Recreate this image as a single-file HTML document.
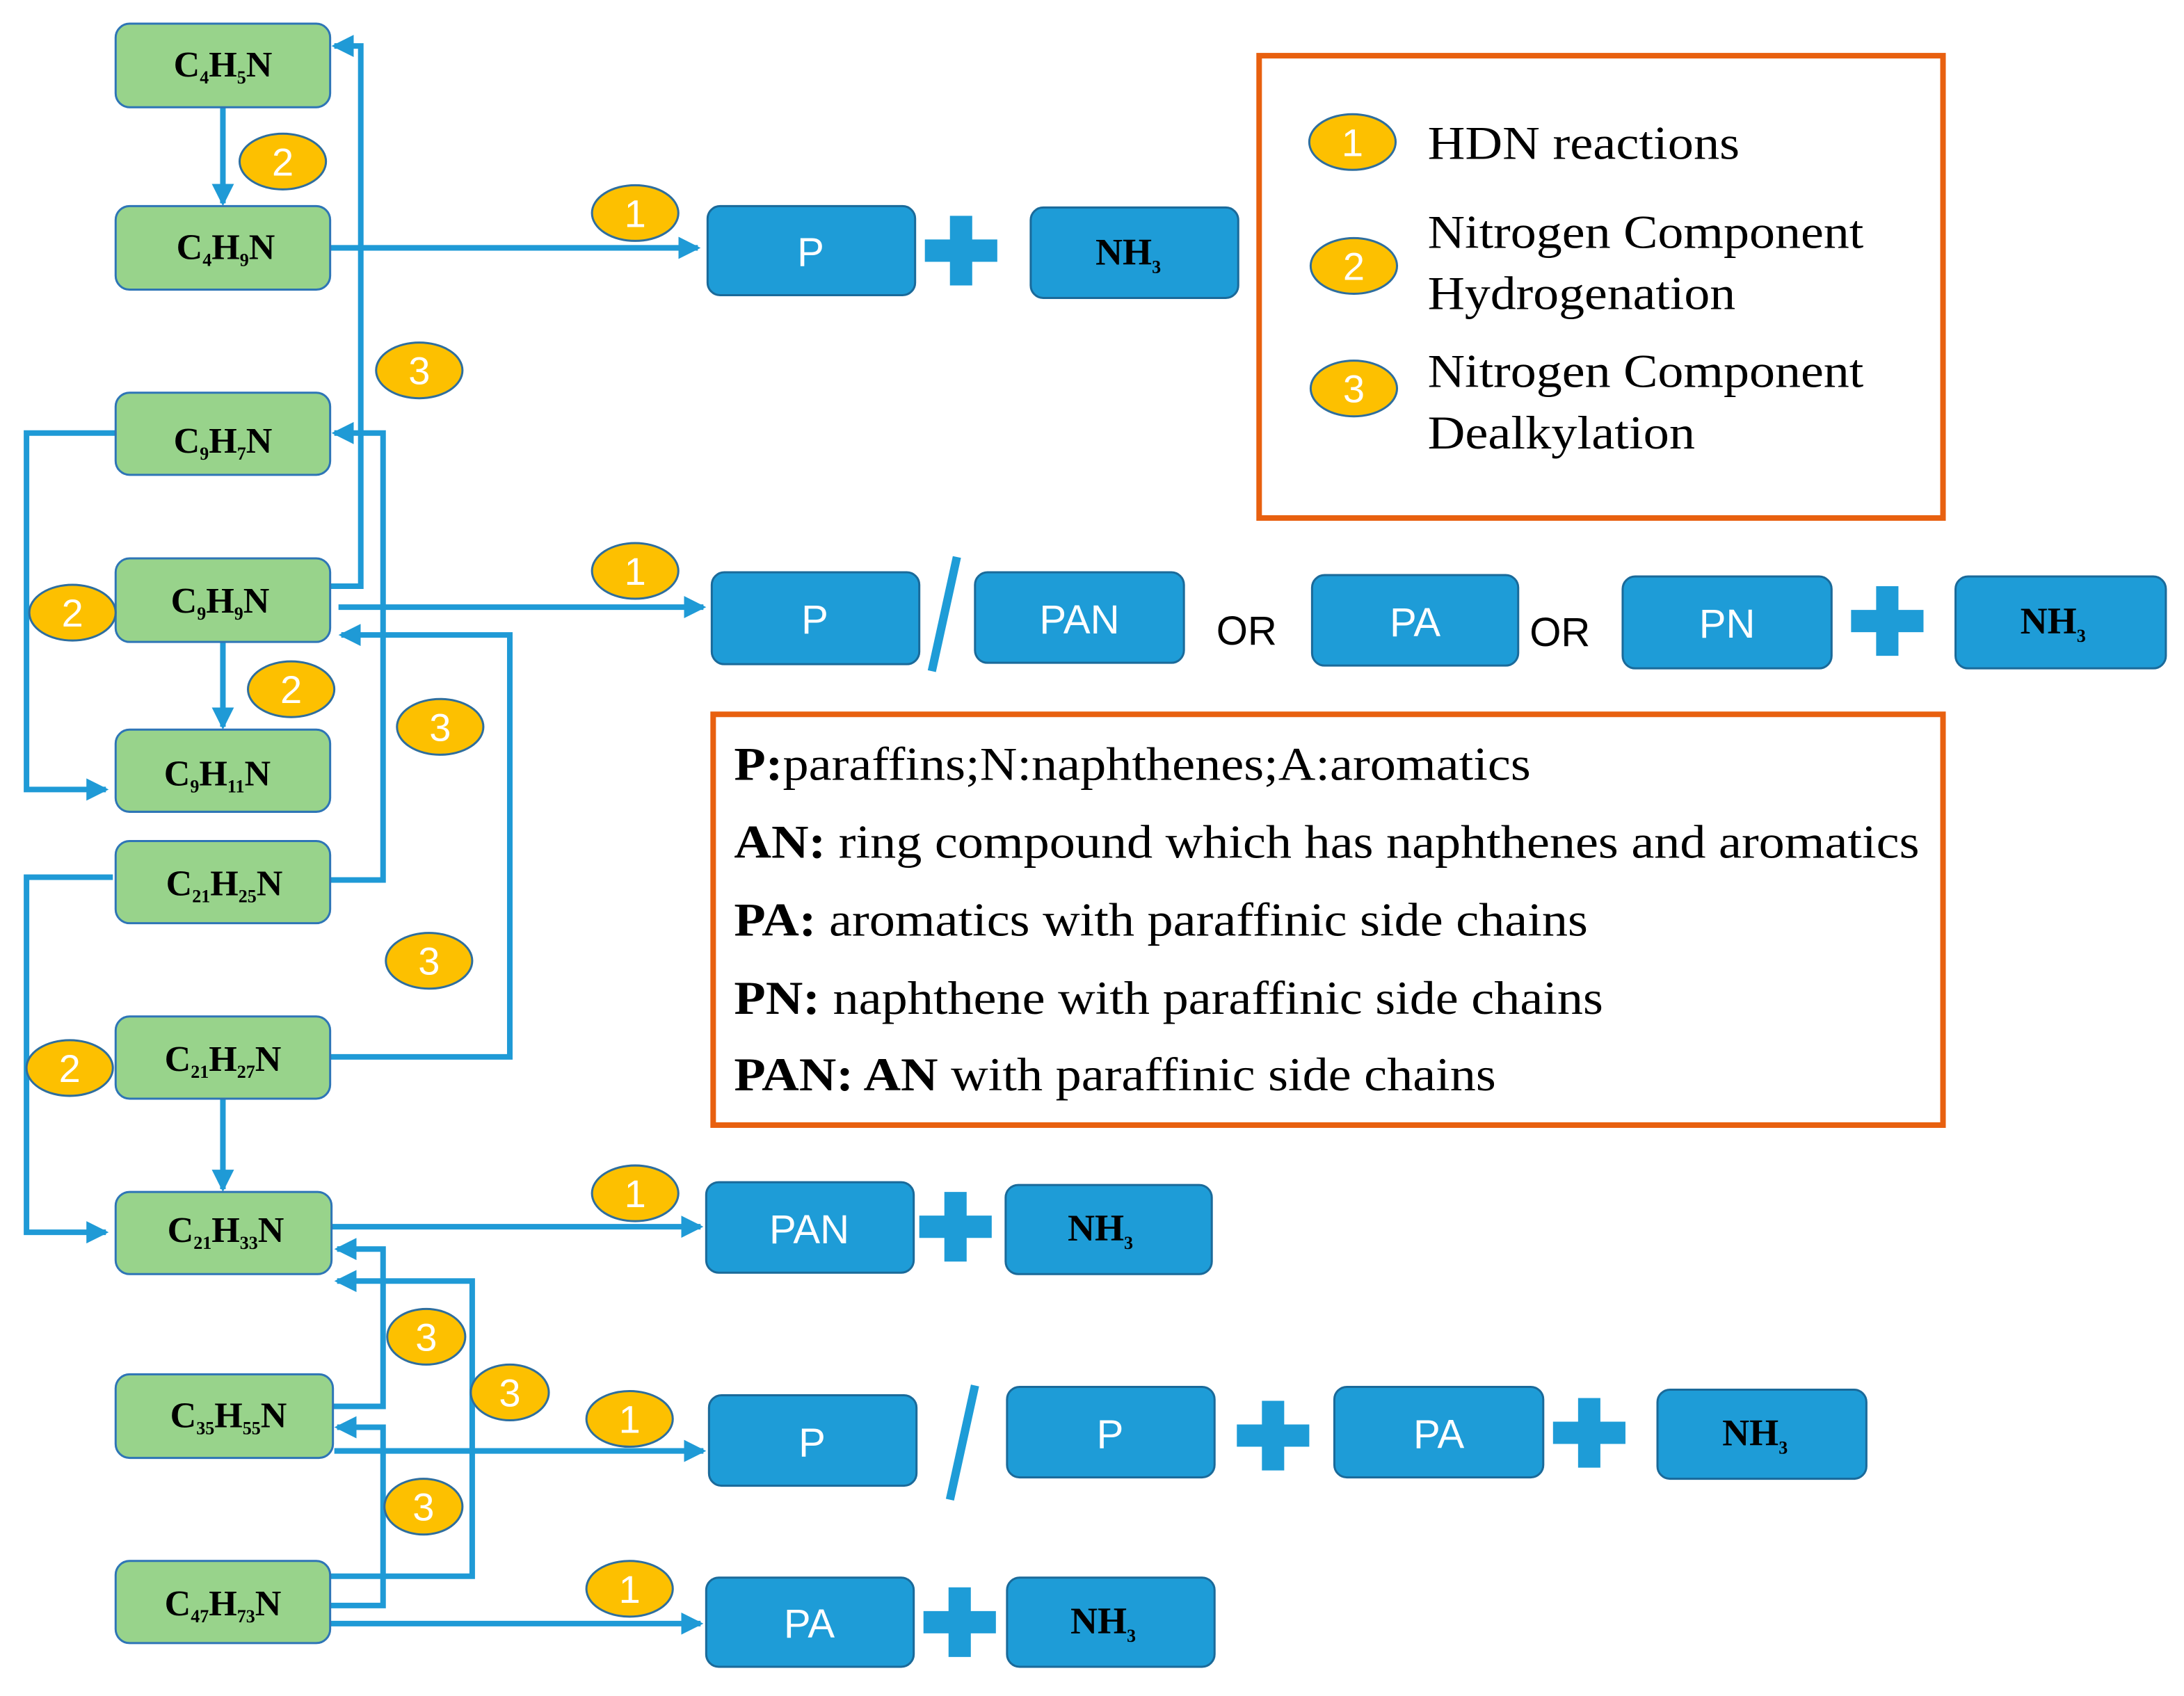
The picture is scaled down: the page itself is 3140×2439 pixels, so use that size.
<!DOCTYPE html>
<html><head><meta charset="utf-8"><style>
html,body{margin:0;padding:0;background:#fff;}
svg{display:block;}
.g{fill:#98d38b;stroke:#2e75b6;stroke-width:1.5;}
.gt{font-family:"Liberation Serif",serif;font-weight:bold;font-size:26px;fill:#000;}
.b{fill:#1e9cd7;stroke:#1a6a9a;stroke-width:1.5;}
.bt{font-family:"Liberation Sans",sans-serif;font-size:29px;fill:#fff;}
.nt{font-family:"Liberation Serif",serif;font-weight:bold;font-size:27px;fill:#000;}
.l{fill:none;stroke:#1f9ad6;stroke-width:4;}
.e{fill:#fdc000;stroke:#2e6e9e;stroke-width:1.5;}
.et{font-family:"Liberation Sans",sans-serif;font-size:28px;fill:#fff;}
.st{font-family:"Liberation Serif",serif;font-size:34px;fill:#000;}
.or{font-family:"Liberation Sans",sans-serif;font-size:29px;fill:#000;}
</style></head><body>
<svg width="3140" height="2439" viewBox="0 0 1568 1218" xmlns="http://www.w3.org/2000/svg">
<defs><marker id="a" markerWidth="4" markerHeight="4" refX="3.5" refY="2" orient="auto" markerUnits="strokeWidth"><path d="M0,0 L4,2 L0,4 z" fill="#1f9ad6"/></marker></defs>

<g class="l">
<path d="M160,77 V146" marker-end="url(#a)"/>
<path d="M237,421 H259 V33 H240" marker-end="url(#a)"/>
<path d="M237,178 H501" marker-end="url(#a)"/>
<path d="M83,311 H19 V567 H76" marker-end="url(#a)"/>
<path d="M237,632 H275 V311 H240" marker-end="url(#a)"/>
<path d="M243,436 H505" marker-end="url(#a)"/>
<path d="M237,759 H366 V456 H245" marker-end="url(#a)"/>
<path d="M160,461 V522" marker-end="url(#a)"/>
<path d="M81,630 H19 V885 H76" marker-end="url(#a)"/>
<path d="M160,789 V854" marker-end="url(#a)"/>
<path d="M237,881 H503" marker-end="url(#a)"/>
<path d="M239,1010 H275 V897 H242" marker-end="url(#a)"/>
<path d="M237,1132 H339 V920 H242" marker-end="url(#a)"/>
<path d="M237,1153 H275 V1025 H242" marker-end="url(#a)"/>
<path d="M240,1042 H505" marker-end="url(#a)"/>
<path d="M237,1166 H503" marker-end="url(#a)"/>
</g>

<g>
<rect class="g" x="83" y="17" width="154" height="60" rx="10"/>
<text class="gt" x="160" y="55" text-anchor="middle">C<tspan font-size="13" dy="5">4</tspan><tspan dy="-5">H</tspan><tspan font-size="13" dy="5">5</tspan><tspan dy="-5">N</tspan></text>
<rect class="g" x="83" y="148" width="154" height="60" rx="10"/>
<text class="gt" x="162" y="186" text-anchor="middle">C<tspan font-size="13" dy="5">4</tspan><tspan dy="-5">H</tspan><tspan font-size="13" dy="5">9</tspan><tspan dy="-5">N</tspan></text>
<rect class="g" x="83" y="282" width="154" height="59" rx="10"/>
<text class="gt" x="160" y="325" text-anchor="middle">C<tspan font-size="13" dy="5">9</tspan><tspan dy="-5">H</tspan><tspan font-size="13" dy="5">7</tspan><tspan dy="-5">N</tspan></text>
<rect class="g" x="83" y="401" width="154" height="60" rx="10"/>
<text class="gt" x="158" y="440" text-anchor="middle">C<tspan font-size="13" dy="5">9</tspan><tspan dy="-5">H</tspan><tspan font-size="13" dy="5">9</tspan><tspan dy="-5">N</tspan></text>
<rect class="g" x="83" y="524" width="154" height="59" rx="10"/>
<text class="gt" x="156" y="564" text-anchor="middle">C<tspan font-size="13" dy="5">9</tspan><tspan dy="-5">H</tspan><tspan font-size="13" dy="5">11</tspan><tspan dy="-5">N</tspan></text>
<rect class="g" x="83" y="604" width="154" height="59" rx="10"/>
<text class="gt" x="161" y="643" text-anchor="middle">C<tspan font-size="13" dy="5">21</tspan><tspan dy="-5">H</tspan><tspan font-size="13" dy="5">25</tspan><tspan dy="-5">N</tspan></text>
<rect class="g" x="83" y="730" width="154" height="59" rx="10"/>
<text class="gt" x="160" y="769" text-anchor="middle">C<tspan font-size="13" dy="5">21</tspan><tspan dy="-5">H</tspan><tspan font-size="13" dy="5">27</tspan><tspan dy="-5">N</tspan></text>
<rect class="g" x="83" y="856" width="155" height="59" rx="10"/>
<text class="gt" x="162" y="892" text-anchor="middle">C<tspan font-size="13" dy="5">21</tspan><tspan dy="-5">H</tspan><tspan font-size="13" dy="5">33</tspan><tspan dy="-5">N</tspan></text>
<rect class="g" x="83" y="987" width="156" height="60" rx="10"/>
<text class="gt" x="164" y="1025" text-anchor="middle">C<tspan font-size="13" dy="5">35</tspan><tspan dy="-5">H</tspan><tspan font-size="13" dy="5">55</tspan><tspan dy="-5">N</tspan></text>
<rect class="g" x="83" y="1121" width="154" height="59" rx="10"/>
<text class="gt" x="160" y="1160" text-anchor="middle">C<tspan font-size="13" dy="5">47</tspan><tspan dy="-5">H</tspan><tspan font-size="13" dy="5">73</tspan><tspan dy="-5">N</tspan></text>
</g>

<g>
<ellipse class="e" cx="203" cy="116" rx="31" ry="20"/><text class="et" x="203" y="126" text-anchor="middle">2</text>
<ellipse class="e" cx="301" cy="266" rx="31" ry="20"/><text class="et" x="301" y="276" text-anchor="middle">3</text>
<ellipse class="e" cx="456" cy="153" rx="31" ry="20"/><text class="et" x="456" y="163" text-anchor="middle">1</text>
<ellipse class="e" cx="456" cy="410" rx="31" ry="20"/><text class="et" x="456" y="420" text-anchor="middle">1</text>
<ellipse class="e" cx="52" cy="440" rx="31" ry="20"/><text class="et" x="52" y="450" text-anchor="middle">2</text>
<ellipse class="e" cx="209" cy="495" rx="31" ry="20"/><text class="et" x="209" y="505" text-anchor="middle">2</text>
<ellipse class="e" cx="316" cy="522" rx="31" ry="20"/><text class="et" x="316" y="532" text-anchor="middle">3</text>
<ellipse class="e" cx="308" cy="690" rx="31" ry="20"/><text class="et" x="308" y="700" text-anchor="middle">3</text>
<ellipse class="e" cx="50" cy="767" rx="31" ry="20"/><text class="et" x="50" y="777" text-anchor="middle">2</text>
<ellipse class="e" cx="456" cy="857" rx="31" ry="20"/><text class="et" x="456" y="867" text-anchor="middle">1</text>
<ellipse class="e" cx="306" cy="960" rx="28" ry="20"/><text class="et" x="306" y="970" text-anchor="middle">3</text>
<ellipse class="e" cx="366" cy="1000" rx="28" ry="20"/><text class="et" x="366" y="1010" text-anchor="middle">3</text>
<ellipse class="e" cx="304" cy="1082" rx="28" ry="20"/><text class="et" x="304" y="1092" text-anchor="middle">3</text>
<ellipse class="e" cx="452" cy="1019" rx="31" ry="20"/><text class="et" x="452" y="1029" text-anchor="middle">1</text>
<ellipse class="e" cx="452" cy="1141" rx="31" ry="20"/><text class="et" x="452" y="1151" text-anchor="middle">1</text>
</g>

<g>
<rect class="b" x="508" y="148" width="149" height="64" rx="9"/><text class="bt" x="582" y="191" text-anchor="middle">P</text>
<path fill="#1e9cd7" d="M682,155h16v17h18v16h-18v17h-16v-17h-18v-16h18z"/>
<rect class="b" x="740" y="149" width="149" height="65" rx="9"/><text class="nt" x="810" y="190" text-anchor="middle">NH<tspan font-size="13" dy="6">3</tspan></text>
<rect class="b" x="511" y="411" width="149" height="66" rx="9"/><text class="bt" x="585" y="455" text-anchor="middle">P</text>
<path d="M687,400 L669,482" stroke="#1e9cd7" stroke-width="6"/>
<rect class="b" x="700" y="411" width="150" height="65" rx="9"/><text class="bt" x="775" y="455" text-anchor="middle">PAN</text>
<text class="or" x="895" y="463" text-anchor="middle">OR</text>
<rect class="b" x="942" y="413" width="148" height="65" rx="9"/><text class="bt" x="1016" y="457" text-anchor="middle">PA</text>
<text class="or" x="1120" y="464" text-anchor="middle">OR</text>
<rect class="b" x="1165" y="414" width="150" height="66" rx="9"/><text class="bt" x="1240" y="458" text-anchor="middle">PN</text>
<path fill="#1e9cd7" d="M1347,421h16v17h18v16h-18v17h-16v-17h-18v-16h18z"/>
<rect class="b" x="1404" y="414" width="151" height="66" rx="9"/><text class="nt" x="1474" y="455" text-anchor="middle">NH<tspan font-size="13" dy="6">3</tspan></text>
<rect class="b" x="507" y="849" width="149" height="65" rx="9"/><text class="bt" x="581" y="893" text-anchor="middle">PAN</text>
<path fill="#1e9cd7" d="M678,856h16v17h18v16h-18v17h-16v-17h-18v-16h18z"/>
<rect class="b" x="722" y="851" width="148" height="64" rx="9"/><text class="nt" x="790" y="891" text-anchor="middle">NH<tspan font-size="13" dy="6">3</tspan></text>
<rect class="b" x="509" y="1002" width="149" height="65" rx="9"/><text class="bt" x="583" y="1046" text-anchor="middle">P</text>
<path d="M700,995 L682,1077" stroke="#1e9cd7" stroke-width="6"/>
<rect class="b" x="723" y="996" width="149" height="65" rx="9"/><text class="bt" x="797" y="1040" text-anchor="middle">P</text>
<path fill="#1e9cd7" d="M906,1006h16v17h18v16h-18v17h-16v-17h-18v-16h18z"/>
<rect class="b" x="958" y="996" width="150" height="65" rx="9"/><text class="bt" x="1033" y="1040" text-anchor="middle">PA</text>
<path fill="#1e9cd7" d="M1133,1004h16v17h18v16h-18v17h-16v-17h-18v-16h18z"/>
<rect class="b" x="1190" y="998" width="150" height="64" rx="9"/><text class="nt" x="1260" y="1038" text-anchor="middle">NH<tspan font-size="13" dy="6">3</tspan></text>
<rect class="b" x="507" y="1133" width="149" height="64" rx="9"/><text class="bt" x="581" y="1176" text-anchor="middle">PA</text>
<path fill="#1e9cd7" d="M681,1140h16v17h18v16h-18v17h-16v-17h-18v-16h18z"/>
<rect class="b" x="723" y="1133" width="149" height="64" rx="9"/><text class="nt" x="792" y="1173" text-anchor="middle">NH<tspan font-size="13" dy="6">3</tspan></text>
</g>

<rect x="904" y="40" width="491" height="332" fill="none" stroke="#e8600f" stroke-width="4"/>
<ellipse class="e" cx="971" cy="102" rx="31" ry="20"/><text class="et" x="971" y="112" text-anchor="middle">1</text>
<ellipse class="e" cx="972" cy="191" rx="31" ry="20"/><text class="et" x="972" y="201" text-anchor="middle">2</text>
<ellipse class="e" cx="972" cy="279" rx="31" ry="20"/><text class="et" x="972" y="289" text-anchor="middle">3</text>
<text class="st" x="1025" y="114" textLength="224" lengthAdjust="spacingAndGlyphs">HDN reactions</text>
<text class="st" x="1025" y="178" textLength="313" lengthAdjust="spacingAndGlyphs">Nitrogen Component</text>
<text class="st" x="1025" y="222" textLength="221" lengthAdjust="spacingAndGlyphs">Hydrogenation</text>
<text class="st" x="1025" y="278" textLength="313" lengthAdjust="spacingAndGlyphs">Nitrogen Component</text>
<text class="st" x="1025" y="322" textLength="192" lengthAdjust="spacingAndGlyphs">Dealkylation</text>

<rect x="512" y="513" width="883" height="295" fill="none" stroke="#e8600f" stroke-width="4"/>
<text class="st" x="527" y="560" textLength="572" lengthAdjust="spacingAndGlyphs"><tspan font-weight="bold">P:</tspan>paraffins;N:naphthenes;A:aromatics</text>
<text class="st" x="527" y="616" textLength="851" lengthAdjust="spacingAndGlyphs"><tspan font-weight="bold">AN:</tspan> ring compound which has naphthenes and aromatics</text>
<text class="st" x="527" y="672" textLength="613" lengthAdjust="spacingAndGlyphs"><tspan font-weight="bold">PA:</tspan> aromatics with paraffinic side chains</text>
<text class="st" x="527" y="728" textLength="624" lengthAdjust="spacingAndGlyphs"><tspan font-weight="bold">PN:</tspan> naphthene with paraffinic side chains</text>
<text class="st" x="527" y="783" textLength="547" lengthAdjust="spacingAndGlyphs"><tspan font-weight="bold">PAN: AN</tspan> with paraffinic side chains</text>
</svg>
</body></html>
